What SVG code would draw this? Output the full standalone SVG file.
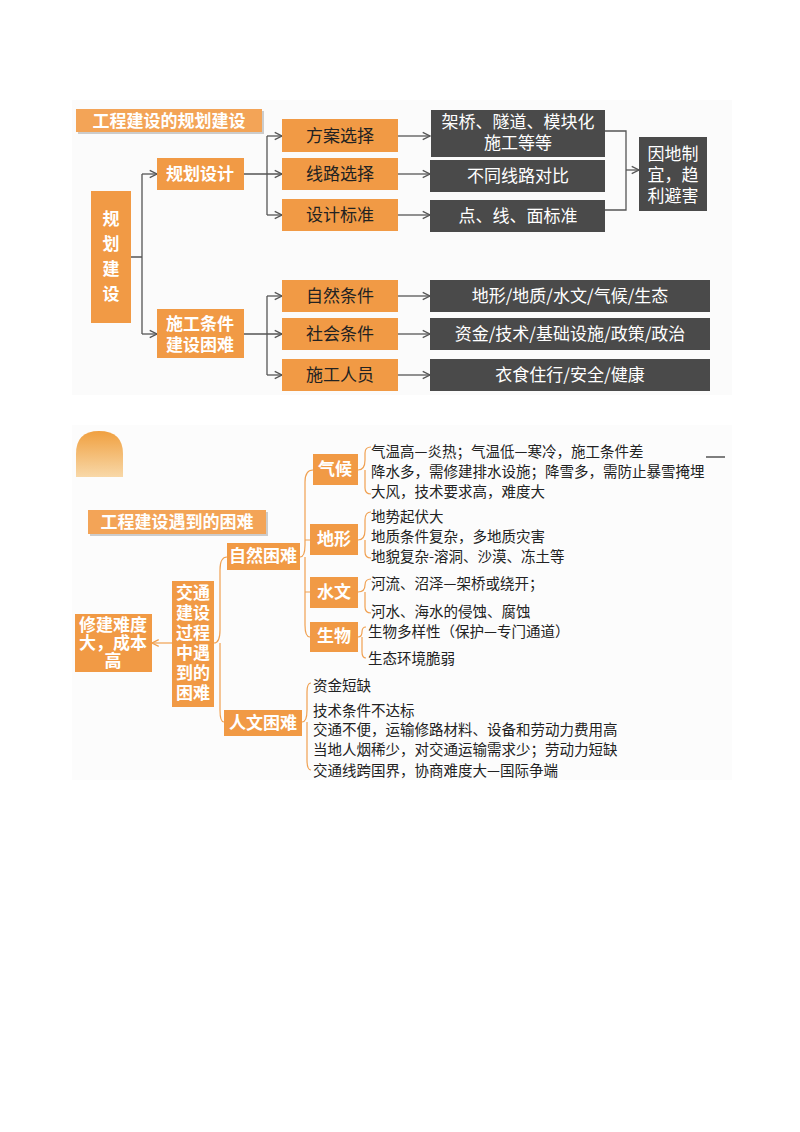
<svg xmlns="http://www.w3.org/2000/svg" width="800" height="1132" viewBox="0 0 800 1132">
<defs>
<style>
text{font-family:"Noto Sans CJK SC","Noto Sans",sans-serif;}
.o{fill:#f19a45;}
.d{fill:#4a4a4a;}
.wt{fill:#fff;font-size:17px;text-anchor:middle;font-weight:bold;}
.bt{fill:#222;font-size:17px;text-anchor:middle;}
.dt{fill:#fff;font-size:17px;text-anchor:middle;}
.lt{fill:#222;font-size:14.5px;}
.c{fill:none;stroke:#555;stroke-width:1.3;}
.co{fill:none;stroke:#f0a050;stroke-width:1.2;}
</style>
<marker id="a" viewBox="0 0 10 10" refX="9" refY="5" markerWidth="7" markerHeight="7" orient="auto"><path d="M1,1 L9,5 L1,9" fill="none" stroke="#555" stroke-width="1.5"/></marker>
<marker id="ao" viewBox="0 0 10 10" refX="9" refY="5" markerWidth="7" markerHeight="7" orient="auto"><path d="M1,1 L9,5 L1,9" fill="none" stroke="#f0a050" stroke-width="1.5"/></marker>
<linearGradient id="g" x1="0" y1="0" x2="0" y2="1"><stop offset="0" stop-color="#f0a040"/><stop offset="1" stop-color="#f8d8a8"/></linearGradient>
</defs>
<rect width="800" height="1132" fill="#fff"/>
<rect x="72" y="100" width="660" height="295" fill="#fbfbfb"/>
<rect x="72" y="425" width="660" height="355" fill="#fcfcfc"/>

<g id="connectors">
<path class="c" d="M131,257 H142 M142,174 V334"/>
<path class="c" d="M142,174 H157" marker-end="url(#a)"/>
<path class="c" d="M142,334 H157" marker-end="url(#a)"/>
<path class="c" d="M244,174 H282" marker-end="url(#a)"/>
<path class="c" d="M267,136 V215"/>
<path class="c" d="M267,136 H282" marker-end="url(#a)"/>
<path class="c" d="M267,215 H282" marker-end="url(#a)"/>
<path class="c" d="M244,334 H282" marker-end="url(#a)"/>
<path class="c" d="M267,296 V375"/>
<path class="c" d="M267,296 H282" marker-end="url(#a)"/>
<path class="c" d="M267,375 H282" marker-end="url(#a)"/>
<path class="c" d="M398,136 H430" marker-end="url(#a)"/>
<path class="c" d="M398,174 H430" marker-end="url(#a)"/>
<path class="c" d="M398,215 H430" marker-end="url(#a)"/>
<path class="c" d="M398,296 H430" marker-end="url(#a)"/>
<path class="c" d="M398,334 H430" marker-end="url(#a)"/>
<path class="c" d="M398,375 H430" marker-end="url(#a)"/>
<path class="c" d="M605,131 H626 V210 H605"/>
<path class="c" d="M626,170 H639" marker-end="url(#a)"/>
<path class="co" d="M172,643 H152" marker-end="url(#ao)"/>
<path class="co" d="M214,643 Q220,643 220,630 V570 Q220,557 227,557 M220,643 V710 Q220,722 224,722"/>
<path class="co" d="M300,557 Q305,557 305,545 V482 Q305,470 313,470 M305,557 V625 Q305,637 310,637 M305,540 H310 M305,592 H310"/>
<path class="co" d="M358,470 Q365,470 365,460 V453 Q365,447 371,447 M365,470 V488 Q365,494 371,494"/>
<path class="co" d="M358,540 Q365,540 365,530 V520 Q365,512 371,512 M365,540 V552 Q365,558 371,558"/>
<path class="co" d="M358,592 Q365,592 365,585 Q365,579 371,579 M365,592 V607 Q365,613 371,613"/>
<path class="co" d="M358,637 Q362,637 362,632 Q362,627 366,627 M362,637 V652 Q362,658 366,658"/>
<path class="co" d="M302,722 Q307,722 307,710 V692 Q307,683 311,683 M307,722 V760 Q307,770 311,770"/>
<path d="M706,457 H725" stroke="#555" stroke-width="1.5"/>
</g>

<g id="title1"><rect x="78" y="111" width="186" height="23" fill="#ccc"/><rect x="76" y="109" width="186" height="23" fill="#f3a457"/><text x="169" y="127" class="wt" font-size="16">工程建设的规划建设</text></g>
<g id="n-root"><rect class="o" x="91" y="191" width="40" height="132"/><text class="wt" font-size="19"><tspan x="111" y="225">规</tspan><tspan x="111" y="250">划</tspan><tspan x="111" y="275">建</tspan><tspan x="111" y="300">设</tspan></text></g>
<g id="n-ghsj"><rect class="o" x="157" y="158" width="87" height="32"/><text x="200" y="180" class="wt">规划设计</text></g>
<g id="n-sgtj"><rect class="o" x="157" y="309" width="87" height="49"/><text x="200" y="330" class="wt" font-size="16">施工条件</text><text x="200" y="351" class="wt" font-size="16">建设困难</text></g>
<g id="n-fa"><rect class="o" x="282" y="119" width="116" height="33"/><text x="340" y="142" class="bt">方案选择</text></g>
<g id="n-xl"><rect class="o" x="282" y="158" width="116" height="32"/><text x="340" y="180" class="bt">线路选择</text></g>
<g id="n-bz"><rect class="o" x="282" y="199" width="116" height="32"/><text x="340" y="221" class="bt">设计标准</text></g>
<g id="n-zr"><rect class="o" x="282" y="280" width="116" height="32"/><text x="340" y="302" class="bt">自然条件</text></g>
<g id="n-sh"><rect class="o" x="282" y="318" width="116" height="32"/><text x="340" y="340" class="bt">社会条件</text></g>
<g id="n-ry"><rect class="o" x="282" y="359" width="116" height="32"/><text x="340" y="381" class="bt">施工人员</text></g>
<g id="n-d1"><rect class="d" x="431" y="110" width="174" height="47"/><text x="518" y="128" class="dt" font-size="16">架桥、隧道、模块化</text><text x="518" y="149" class="dt" font-size="16">施工等等</text></g>
<g id="n-d2"><rect class="d" x="430" y="160" width="175" height="32"/><text x="518" y="182" class="dt">不同线路对比</text></g>
<g id="n-d3"><rect class="d" x="430" y="200" width="175" height="32"/><text x="518" y="222" class="dt">点、线、面标准</text></g>
<g id="n-yd"><rect class="d" x="639" y="137" width="68" height="74"/><text class="dt" font-size="16"><tspan x="673" y="160">因地制</tspan><tspan x="673" y="181">宜，趋</tspan><tspan x="673" y="202">利避害</tspan></text></g>
<g id="n-d4"><rect class="d" x="430" y="280" width="280" height="32"/><text x="570" y="302" class="dt">地形/地质/水文/气候/生态</text></g>
<g id="n-d5"><rect class="d" x="430" y="318" width="280" height="32"/><text x="570" y="340" class="dt">资金/技术/基础设施/政策/政治</text></g>
<g id="n-d6"><rect class="d" x="430" y="359" width="280" height="32"/><text x="570" y="381" class="dt">衣食住行/安全/健康</text></g>

<g id="blob"><path d="M76,477 V454 Q76,431 99,431 Q123,431 123,454 V477 Z" fill="url(#g)"/></g>
<g id="title2"><rect x="90" y="512" width="178" height="24" fill="#ccc"/><rect x="88" y="510" width="178" height="24" fill="#f3a457"/><text x="177" y="528" class="wt" font-size="16">工程建设遇到的困难</text></g>
<g id="n-xjnd"><rect class="o" x="75" y="614" width="77" height="58"/><text class="wt" font-size="13.5"><tspan x="113" y="631">修建难度</tspan><tspan x="113" y="649">大，成本</tspan><tspan x="113" y="667">高</tspan></text></g>
<g id="n-jt"><rect class="o" x="172" y="581" width="42" height="126"/><text class="wt" font-size="13.5"><tspan x="193" y="599">交通</tspan><tspan x="193" y="619">建设</tspan><tspan x="193" y="639">过程</tspan><tspan x="193" y="659">中遇</tspan><tspan x="193" y="679">到的</tspan><tspan x="193" y="699">困难</tspan></text></g>
<g id="n-zrkn"><rect class="o" x="227" y="543" width="73" height="27"/><text x="263" y="562" class="wt" font-size="15">自然困难</text></g>
<g id="n-rwkn"><rect class="o" x="224" y="710" width="78" height="26"/><text x="263" y="729" class="wt" font-size="15">人文困难</text></g>
<g id="n-qh"><rect class="o" x="313" y="454" width="45" height="31"/><text x="335" y="475" class="wt" font-size="15">气候</text></g>
<g id="n-dx"><rect class="o" x="310" y="524" width="48" height="31"/><text x="334" y="545" class="wt" font-size="15">地形</text></g>
<g id="n-sw"><rect class="o" x="310" y="577" width="48" height="31"/><text x="334" y="598" class="wt" font-size="15">水文</text></g>
<g id="n-sabw"><rect class="o" x="310" y="622" width="48" height="30"/><text x="334" y="642" class="wt" font-size="15">生物</text></g>
<g id="texts">
<text x="371" y="457" class="lt">气温高—炎热；气温低—寒冷，施工条件差</text>
<text x="371" y="477" class="lt">降水多，需修建排水设施；降雪多，需防止暴雪掩埋</text>
<text x="371" y="497" class="lt">大风，技术要求高，难度大</text>
<text x="371" y="522" class="lt">地势起伏大</text>
<text x="371" y="542" class="lt">地质条件复杂，多地质灾害</text>
<text x="371" y="562" class="lt">地貌复杂-溶洞、沙漠、冻土等</text>
<text x="371" y="589" class="lt">河流、沼泽—架桥或绕开；</text>
<text x="371" y="617" class="lt">河水、海水的侵蚀、腐蚀</text>
<text x="368" y="637" class="lt">生物多样性（保护—专门通道）</text>
<text x="368" y="664" class="lt">生态环境脆弱</text>
<text x="313" y="691" class="lt">资金短缺</text>
<text x="313" y="716" class="lt">技术条件不达标</text>
<text x="313" y="735" class="lt">交通不便，运输修路材料、设备和劳动力费用高</text>
<text x="313" y="755" class="lt">当地人烟稀少，对交通运输需求少；劳动力短缺</text>
<text x="313" y="776" class="lt">交通线跨国界，协商难度大—国际争端</text>
</g>
</svg>
